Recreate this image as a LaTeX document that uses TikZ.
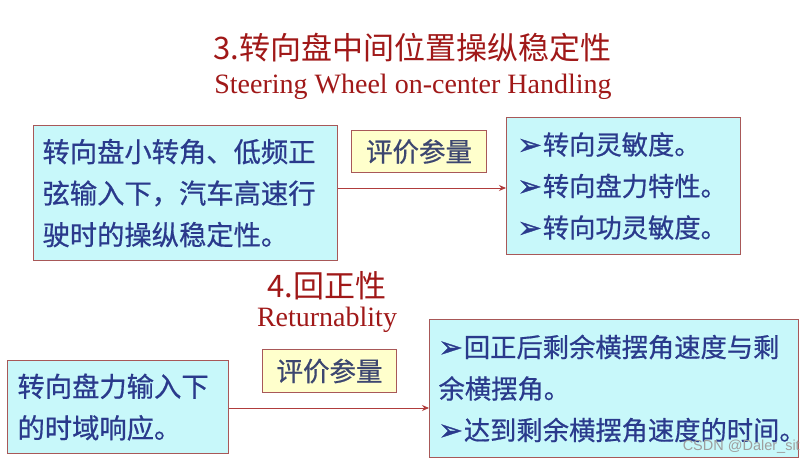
\documentclass[tikz,border=0pt]{standalone}
\usepackage{fontspec}
\setmainfont{Liberation Serif}
\newfontfamily\cjk{Noto Sans CJK SC}
\newfontfamily\cjkb{Noto Sans CJK SC}[FakeBold=0.6]
\newfontfamily\dingfont{DejaVu Sans}[FakeBold=1.2]
\newfontfamily\wmfont{Liberation Sans}
\usetikzlibrary{arrows.meta}
\definecolor{titlered}{HTML}{A01818}
\definecolor{boxcyan}{HTML}{C8F8FA}
\definecolor{boxedge}{HTML}{A85858}
\definecolor{textblue}{HTML}{2A3A8C}
\definecolor{boxyellow}{HTML}{FFFFCC}
\definecolor{yeltext}{HTML}{3C4670}
\definecolor{linered}{HTML}{B03C3C}
\newcommand{\bul}{{\dingfont\fontsize{29}{29}\selectfont ➢}\kern1pt}
\tikzset{
  cyanbox/.style={draw=boxedge, line width=1.1pt, fill=boxcyan, anchor=north west,
    align=left, inner ysep=0pt, text=textblue},
  bigtext/.style={font=\cjkb\fontsize{27.3}{41.5}\selectfont},
  smalltext/.style={font=\cjkb\fontsize{26.3}{41.5}\selectfont},
  yelbox/.style={draw=boxedge, line width=1.1pt, fill=boxyellow, anchor=north west,
    inner sep=0pt, text=yeltext, font=\cjkb\fontsize{26.5}{26.5}\selectfont},
  cjktitle/.style={text=titlered, font=\cjk\fontsize{31}{31}\selectfont, inner sep=0pt},
  entitle/.style={text=titlered, font=\fontsize{28}{28}\selectfont, inner sep=0pt},
  conn/.style={draw=linered, line width=0.9pt, -{Stealth[length=7pt,width=6pt]}}
}
\begin{document}
\begin{tikzpicture}[x=1pt,y=-1pt]
\path[fill=white,use as bounding box] (0,0) rectangle (812,463);

\node[cjktitle] (t3) at (412.5,48) {3.转向盘中间位置操纵稳定性};
\node[entitle] (e3) at (413,87) {Steering Wheel on-center Handling};

\node[cyanbox, bigtext, minimum width=304pt, minimum height=135pt, text width=286pt, inner xsep=9pt] (b1) at (33,125)
  {转向盘小转角、低频正\\弦输入下，汽车高速行\\驶时的操纵稳定性。};
\node[yelbox, minimum width=135pt, minimum height=42pt] (y1) at (351,130) {评价参量};
\node[cyanbox, smalltext, minimum width=234pt, minimum height=137pt, text width=212pt, inner xsep=11pt] (b2) at (506,117)
  {\bul 转向灵敏度。\\\bul 转向盘力特性。\\\bul 转向功灵敏度。};
\draw[conn] (b1.east |- 0,188) -- (b2.west |- 0,188);

\node[cjktitle] (t4) at (327,286) {4.回正性};
\node[entitle] (e4) at (327,320) {Returnablity};

\node[cyanbox, bigtext, minimum width=221pt, minimum height=93pt, text width=201pt, inner xsep=10pt] (b3) at (7,360)
  {转向盘力输入下\\的时域响应。};
\node[yelbox, minimum width=134pt, minimum height=43pt] (y2) at (262,349) {评价参量};
\node[cyanbox, smalltext, minimum width=369pt, minimum height=138pt, text width=351pt, inner xsep=9pt] (b4) at (429,319)
  {\bul 回正后剩余横摆角速度与剩\\余横摆角。\\\bul 达到剩余横摆角速度的时间。};
\draw[conn] (b3.east |- 0,408) -- (b4.west |- 0,408);

\node[anchor=east, inner sep=0pt, text=black!38, font=\wmfont\fontsize{14.5}{14.5}\selectfont] (wm) at (800,447) {CSDN @Daler\_sit};
\end{tikzpicture}
\end{document}
